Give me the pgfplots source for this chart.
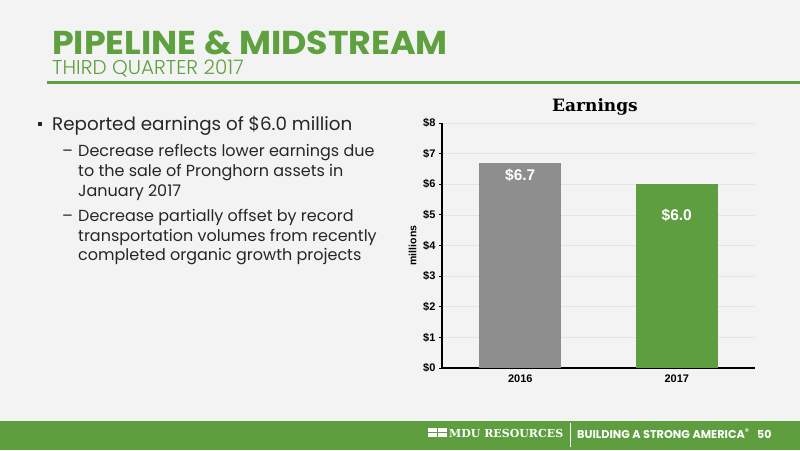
\documentclass[border=0pt]{standalone}
\usepackage{fontspec}
\setmainfont{Poppins}
\newfontfamily\popl{Poppins Light}
\newfontfamily\lib{Liberation Sans}
\newfontfamily\dser{DejaVu Serif}
\usepackage{pgfplots}
\pgfplotsset{compat=1.18}
\definecolor{bg}{HTML}{F3F3F3}
\definecolor{titlegreen}{HTML}{5FA03F}
\definecolor{footgreen}{HTML}{5E9E3E}
\definecolor{bargray}{HTML}{8E8E8E}
\definecolor{bargreen}{HTML}{5E9E40}
\definecolor{gridc}{HTML}{E4E4E4}
\definecolor{txt}{HTML}{262626}
\begin{document}
\begin{tikzpicture}
\fill[bg] (0,0) rectangle (800pt,450pt);
\fill[footgreen] (0,0) rectangle (800pt,29pt);
\fill[titlegreen] (47pt,366pt) rectangle (800pt,369pt);
\node[anchor=base west, inner sep=0, text depth=0pt, xscale=1.055, text=titlegreen, font=\fontsize{33}{33}\selectfont\bfseries] at (52pt,395pt) {PIPELINE \& MIDSTREAM};
\node[anchor=base west, inner sep=0, text height=14pt, text=titlegreen, font=\popl\fontsize{20}{20}\selectfont] at (52pt,375pt) {THIRD QUARTER 2017};
% bullets
\fill[txt] (38pt,324pt) rectangle (42pt,328pt);
\begin{scope}[every node/.style={anchor=base west, inner sep=0, text=txt}]
\node[font=\fontsize{18.3}{18.3}\selectfont] at (52pt,319pt) {Reported earnings of \$6.0 million};
\node[font=\fontsize{16}{16}\selectfont] at (62pt,293pt) {–};
\node[font=\fontsize{16}{16}\selectfont] at (78pt,293pt) {Decrease reflects lower earnings due};
\node[font=\fontsize{16}{16}\selectfont] at (78pt,273pt) {to the sale of Pronghorn assets in};
\node[font=\fontsize{16}{16}\selectfont] at (78pt,253pt) {January 2017};
\node[font=\fontsize{16}{16}\selectfont] at (62pt,228pt) {–};
\node[font=\fontsize{16}{16}\selectfont] at (78pt,228pt) {Decrease partially offset by record};
\node[font=\fontsize{16}{16}\selectfont] at (78pt,208pt) {transportation volumes from recently};
\node[font=\fontsize{16}{16}\selectfont] at (78pt,189pt) {completed organic growth projects};
\end{scope}
% chart title
\node[font=\dser\bfseries\fontsize{17}{17}\selectfont, text=black] at (595pt,343pt) {Earnings};
\begin{axis}[
  at={(442pt,82pt)}, anchor=south west, scale only axis,
  width=313pt, height=245pt,
  xmin=-0.5, xmax=1.5, ymin=0, ymax=8,
  ytick={0,...,8}, xtick={0,1}, xticklabels={2016,2017},
  axis x line*=bottom, axis y line*=left,
  axis line style={black, line width=1.2pt},
  ymajorgrids, grid style={gridc, line width=0.7pt},
  xtick style={draw=none},
  ytick style={black, line width=1pt},
  tick align=outside, major tick length=3pt,
  /pgf/number format/assume math mode=true,
  yticklabel={\$\pgfmathprintnumber{\tick}},
  ticklabel style={font=\lib\bfseries\fontsize{11}{11}\selectfont, text=black},
  ylabel={millions},
  ylabel style={font=\lib\bfseries\fontsize{10.5}{10.5}\selectfont},
  ybar, bar width=82pt,
  nodes near coords={\$\pgfmathprintnumber[fixed,fixed zerofill,precision=1]{\pgfplotspointmeta}},
]
\addplot[fill=bargray, draw=none, bar shift=0pt,
  nodes near coords style={anchor=center, yshift=-13pt, text=white, font=\lib\bfseries\fontsize{15.5}{15.5}\selectfont}]
  coordinates {(0,6.7)};
\addplot[fill=bargreen, draw=none, bar shift=0pt,
  nodes near coords style={anchor=center, yshift=-31pt, text=white, font=\lib\bfseries\fontsize{15.5}{15.5}\selectfont}]
  coordinates {(1,6.0)};
\end{axis}
% footer
\fill[white] (428pt,18pt) rectangle (437pt,22pt);
\fill[white] (438pt,18pt) rectangle (447pt,22pt);
\fill[white] (428pt,13pt) rectangle (437pt,17pt);
\fill[white] (438pt,13pt) rectangle (447pt,17pt);
\node[anchor=west, inner sep=0, text=white, font=\dser\bfseries\fontsize{11}{11}\selectfont] at (449pt,17pt) {MDU RESOURCES};
\draw[white, line width=0.8pt] (570pt,3pt) -- (570pt,27pt);
\node[anchor=west, inner sep=0, text=white, font=\bfseries\fontsize{11.3}{11.3}\selectfont] at (577pt,16pt) {BUILDING A STRONG AMERICA\textsuperscript{®}};
\node[anchor=west, inner sep=0, text=white, font=\bfseries\fontsize{11}{11}\selectfont] at (757pt,16pt) {50};
\end{tikzpicture}
\end{document}
